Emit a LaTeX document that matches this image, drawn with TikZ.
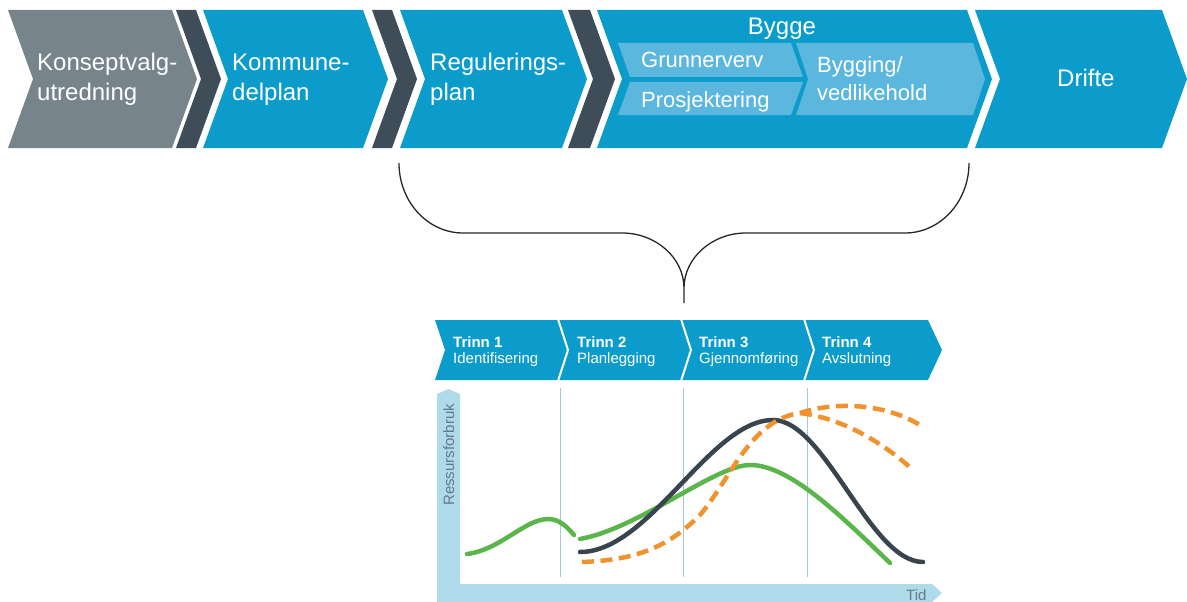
\documentclass[tikz,border=0pt]{standalone}
\usepackage{fontspec}
\setmainfont{Liberation Sans}
\definecolor{cgray}{HTML}{77848C}
\definecolor{cdark}{HTML}{3E4D58}
\definecolor{cblue}{HTML}{0B9CCB}
\definecolor{clight}{HTML}{5BB7DD}
\definecolor{caxis}{HTML}{AEDAEA}
\definecolor{cdiv}{HTML}{A3C9D9}
\definecolor{cgreen}{HTML}{5AB54B}
\definecolor{ccurve}{HTML}{38454F}
\definecolor{corange}{HTML}{F0922E}
\definecolor{caxtext}{HTML}{66798A}
\begin{document}
\begin{tikzpicture}[x=1pt,y=-1pt,
  big/.style={text=white, font=\fontsize{24}{24}\selectfont, anchor=base west, inner sep=0pt},
  sub/.style={text=white, font=\fontsize{22}{22}\selectfont, anchor=base west, inner sep=0pt},
  trinnb/.style={text=white, font=\fontsize{15}{15}\selectfont\bfseries, anchor=base west, inner sep=0pt},
  trinn/.style={text=white, font=\fontsize{15}{15}\selectfont, anchor=base west, inner sep=0pt},
  axtext/.style={text=caxtext, font=\fontsize{15}{15}\selectfont, inner sep=0pt},
  divline/.style={cdiv, line width=1pt},
  curve/.style={line width=4.5pt, line cap=round},
  dashcurve/.style={line width=4.5pt, corange, dash pattern=on 12pt off 6.5pt},
  sep/.style={white, line width=2pt}
]
\useasboundingbox (0,0) rectangle (1187,602);

% top row
\fill[cgray] (8,10) -- (172,10) -- (197,79) -- (172,148) -- (8,148) -- (33,79) -- cycle;
\fill[cdark] (176,10) -- (196,10) -- (221,79) -- (196,148) -- (176,148) -- (201,79) -- cycle;
\fill[cblue] (203,10) -- (363,10) -- (388,79) -- (363,148) -- (203,148) -- (228,79) -- cycle;
\fill[cdark] (372,10) -- (392,10) -- (417,79) -- (392,148) -- (372,148) -- (397,79) -- cycle;
\fill[cblue] (400,10) -- (562,10) -- (587,79) -- (562,148) -- (400,148) -- (425,79) -- cycle;
\fill[cdark] (568,10) -- (590,10) -- (615,79) -- (590,148) -- (568,148) -- (593,79) -- cycle;
\fill[cblue] (597,10) -- (967,10) -- (992,79) -- (967,148) -- (597,148) -- (622,79) -- cycle;
\fill[cblue] (975,10) -- (1162,10) -- (1187,79) -- (1162,148) -- (975,148) -- (1000,79) -- cycle;

% sub steps in Bygge
\fill[clight] (618,43) -- (791,43) -- (803,77) -- (630,77) -- cycle;
\fill[clight] (630,82) -- (803,82) -- (791,115) -- (618,115) -- cycle;
\fill[clight] (796,43) -- (973,43) -- (985,79) -- (973,115) -- (796,115) -- (808,79) -- cycle;

\node[big] (k1) at (37,71) {Konseptvalg-};
\node[big] (k2) at (37,100) {utredning};
\node[big] (m1) at (232,71) {Kommune-};
\node[big] (m2) at (232,100) {delplan};
\node[big] (r1) at (430,71) {Regulerings-};
\node[big] (r2) at (430,100) {plan};
\node[big, anchor=base] (bygge) at (782,35) {Bygge};
\node[sub] (grunn) at (641,67) {Grunnerverv};
\node[sub] (prosj) at (641,107) {Prosjektering};
\node[sub] (byg1) at (817,73) {Bygging/};
\node[sub] (byg2) at (817,100) {vedlikehold};
\node[big] (drifte) at (1057,87) {Drifte};

% brace
\coordinate (bl) at (399,163);
\coordinate (br) at (969,163);
\coordinate (bp) at (684,303);
\draw[line width=1.3pt, black!85] (bl) .. controls (399,202) and (428,233) .. (463,233)
  -- (622,233) .. controls (656,233) and (684,258) .. (684,288) -- (bp)
  (684,288) .. controls (684,258) and (712,233) .. (746,233)
  -- (905,233) .. controls (940,233) and (969,202) .. (br);

% trinn band
\fill[cblue] (435,320) -- (928,320) -- (942,350) -- (928,380) -- (435,380) -- (445,350) -- cycle;
\draw[sep] (558,319) -- (568,350) -- (558,381);
\draw[sep] (681,319) -- (691,350) -- (681,381);
\draw[sep] (804,319) -- (814,350) -- (804,381);
\node[trinnb] (t1) at (453,347) {Trinn 1};
\node[trinn] (t1b) at (453,363) {Identifisering};
\node[trinnb] (t2) at (577,347) {Trinn 2};
\node[trinn] (t2b) at (577,363) {Planlegging};
\node[trinnb] (t3) at (699,347) {Trinn 3};
\node[trinn] (t3b) at (699,363) {Gjennomføring};
\node[trinnb] (t4) at (822,347) {Trinn 4};
\node[trinn] (t4b) at (822,363) {Avslutning};

% axes
\fill[caxis] (437,394) -- (448.5,389) -- (460,394) -- (460,602) -- (437,602) -- cycle;
\fill[caxis] (437,584) -- (932,584) -- (942,593) -- (932,602) -- (437,602) -- cycle;
\node[axtext, rotate=90, anchor=base west] (yl) at (454,506) {Ressursforbruk};
\node[axtext, anchor=base west] (xl) at (906,600) {Tid};

% dividers
\draw[divline] (560,388) -- (560,577);
\draw[divline] (683,388) -- (683,577);
\draw[divline] (807,388) -- (807,577);

% curves
\draw[curve, cgreen] (467,554) .. controls (500,550) and (525,519) .. (548,519)
  .. controls (560,519) and (568,528) .. (574,535);
\draw[curve, cgreen] (580,539) .. controls (640,528) and (715,465) .. (750,465)
  .. controls (790,465) and (840,515) .. (890,563);
\draw[curve, ccurve] (580,552) .. controls (650,552) and (710,420) .. (773,420)
  .. controls (825,420) and (870,562) .. (923,562);
\draw[dashcurve] (582,562) .. controls (640,560) and (670,545) .. (700,515)
  .. controls (730,480) and (750,420) .. (800,413)
  .. controls (840,400) and (890,405) .. (923,427);
\draw[dashcurve] (800,413) .. controls (840,418) and (880,440) .. (913,470);
\end{tikzpicture}
\end{document}
